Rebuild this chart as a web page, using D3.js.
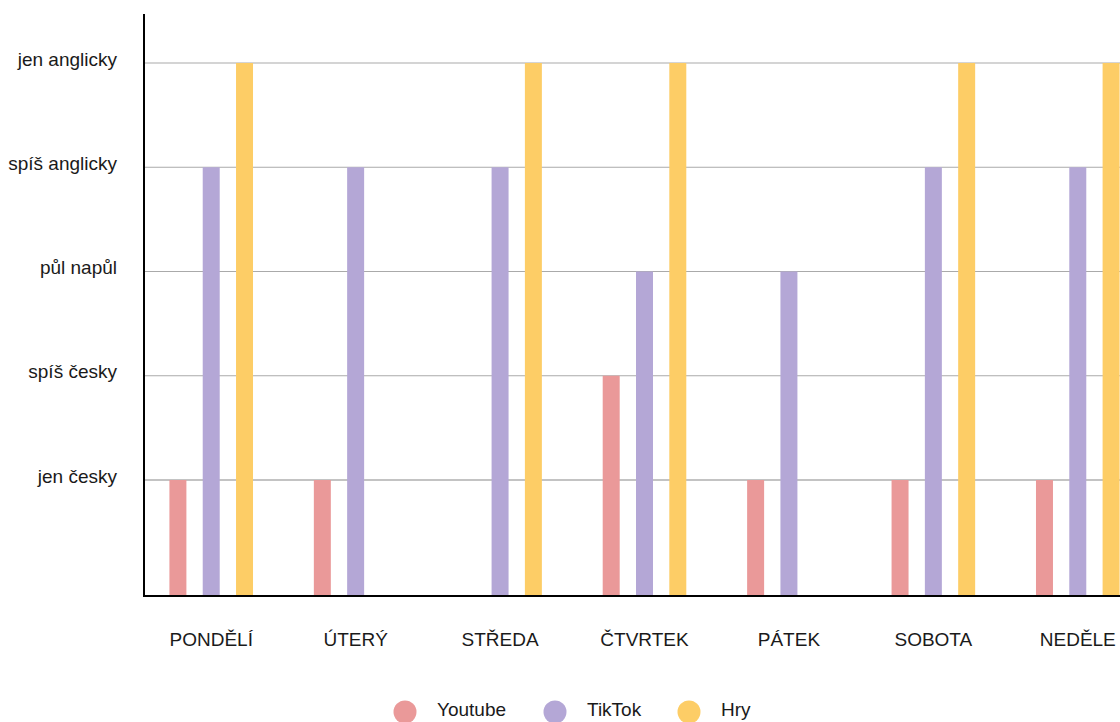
<!DOCTYPE html>
<html>
<head>
<meta charset="utf-8">
<script src="https://cdn.jsdelivr.net/npm/d3@7"></script>
<style>
    body { margin: 0; background: #fff; }
    text { font-family: "Liberation Sans", Arial, sans-serif; fill: #1a1a1a; }
</style>
</head>
<body>
<svg id="chart" width="1120" height="722"></svg>
<script>

// categories and levels
const days = ["PONDĚLÍ", "ÚTERÝ", "STŘEDA", "ČTVRTEK", "PÁTEK", "SOBOTA", "NEDĚLE"];
const levels = ["jen česky", "spíš česky", "půl napůl", "spíš anglicky", "jen anglicky"];
const seriesNames = ["Youtube", "TikTok", "Hry"];
const seriesColors = ["#ea9999", "#b4a7d6", "#fdcd66"];

// 1 = jen česky ... 5 = jen anglicky, null = no bar
const youtube = [1, 1, null, 2, 1, 1, 1];
const tiktok = [4, 4, 4, 3, 3, 4, 4];
const hry = [5, null, 5, 5, null, 5, 5];
const seriesValues = [youtube, tiktok, hry];

const svg = d3.select("#chart");
const axisX = 144;
const plotTop = 14;
const plotBottom = 596;
const plotRight = 1120;

// Create scales
const xScale = d3.scaleBand()
    .domain(days)
    .range([139, 1150]);

const x1 = d3.scaleBand()
    .domain(seriesNames)
    .range([-41.8, 41.8])
    .paddingInner(0.49)
    .paddingOuter(0);

const yScale = d3.scaleLinear()
    .domain([1, 5])
    .range([480, 63]);

// gridlines
svg.append("g")
    .selectAll("line")
    .data(levels)
    .enter().append("line")
    .attr("x1", axisX)
    .attr("x2", plotRight)
    .attr("y1", (d, i) => yScale(i + 1))
    .attr("y2", (d, i) => yScale(i + 1))
    .attr("stroke", (d, i) => i == 0 ? "#888" : "#aaa")
    .attr("stroke-width", 1.2);

// y labels
svg.append("g")
    .selectAll("text")
    .data(levels)
    .enter().append("text")
    .attr("x", 117)
    .attr("y", (d, i) => yScale(i + 1) - 4)
    .attr("dy", "0.35em")
    .attr("text-anchor", "end")
    .style("font-size", "19px")
    .text(d => d);

// bars
seriesValues.forEach((values, s) => {
    const name = seriesNames[s];
    svg.append("g")
        .selectAll("rect")
        .data(values.map((v, i) => ({ day: days[i], value: v })).filter(d => d.value !== null))
        .enter().append("rect")
        .attr("x", d => xScale(d.day) + xScale.bandwidth() / 2 + x1(name))
        .attr("width", x1.bandwidth())
        .attr("y", d => yScale(d.value))
        .attr("height", d => plotBottom - yScale(d.value))
        .attr("fill", seriesColors[s]);
});

// axes lines
svg.append("line")
    .attr("x1", axisX).attr("x2", axisX)
    .attr("y1", plotTop).attr("y2", plotBottom + 1)
    .attr("stroke", "#000").attr("stroke-width", 2);

svg.append("line")
    .attr("x1", axisX - 1).attr("x2", plotRight)
    .attr("y1", plotBottom).attr("y2", plotBottom)
    .attr("stroke", "#000").attr("stroke-width", 2);

// category labels
svg.append("g")
    .selectAll("text")
    .data(days)
    .enter().append("text")
    .attr("x", d => xScale(d) + xScale.bandwidth() / 2)
    .attr("y", 646)
    .attr("text-anchor", "middle")
    .style("font-size", "19px")
    .text(d => d);

// legend
const legendX = [405, 555, 689];
const legend = svg.append("g")
    .selectAll("g")
    .data(seriesNames)
    .enter().append("g")
    .attr("transform", (d, i) => `translate(${legendX[i]},712)`);

legend.append("circle")
    .attr("r", 11.5)
    .attr("fill", (d, i) => seriesColors[i]);

legend.append("text")
    .attr("x", 32)
    .attr("y", 4)
    .style("font-size", "19px")
    .text(d => d);

</script>
</body>
</html>
